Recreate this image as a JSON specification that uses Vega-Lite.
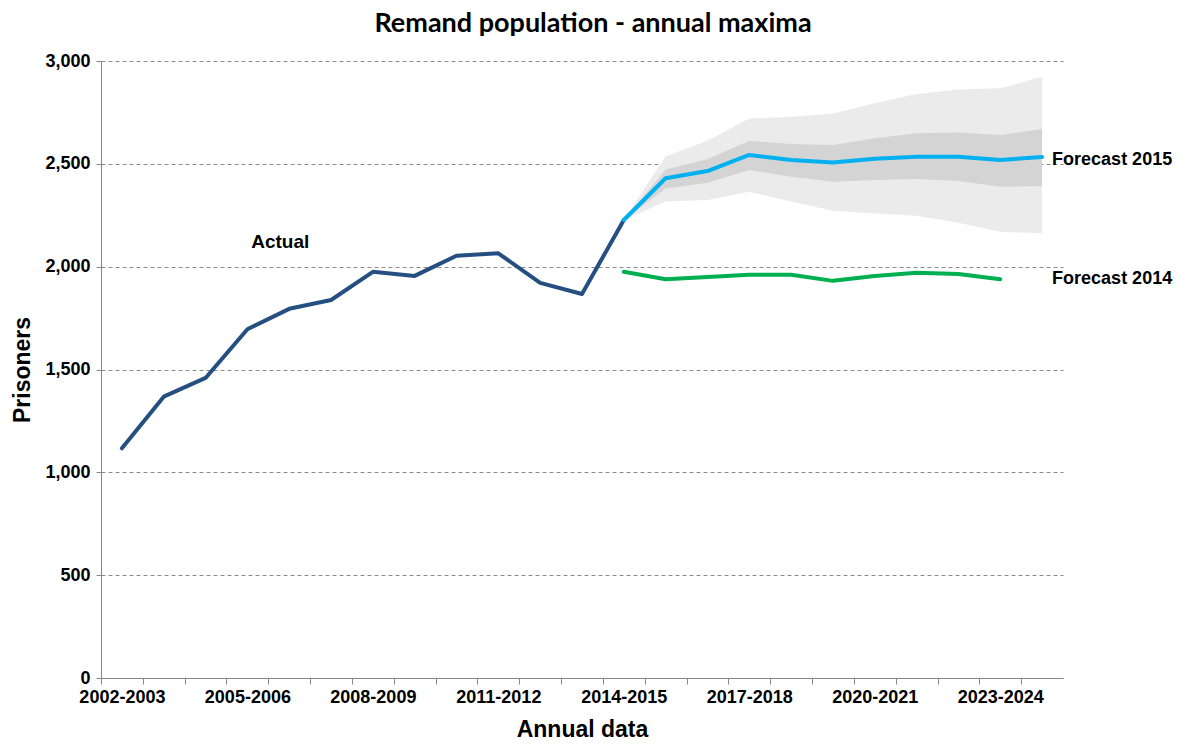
{
  "$schema": "https://vega.github.io/schema/vega-lite/v6.json",
  "autosize": "none",
  "width": 962,
  "height": 617,
  "padding": {"left": 101, "top": 61, "right": 116, "bottom": 66},
  "background": "white",
  "config": {"view": {"stroke": null}},
  "title": {"text": "Remand population - annual maxima", "font": "Lato", "fontSize": 27, "fontWeight": "bold", "color": "#000000", "anchor": "middle", "offset": 14, "dx": 11},
  "datasets": {
    "lines": [
      {"year": "2002-2003", "series": "Actual", "value": 1117},
      {"year": "2003-2004", "series": "Actual", "value": 1368},
      {"year": "2004-2005", "series": "Actual", "value": 1459},
      {"year": "2005-2006", "series": "Actual", "value": 1696},
      {"year": "2006-2007", "series": "Actual", "value": 1795},
      {"year": "2007-2008", "series": "Actual", "value": 1838},
      {"year": "2008-2009", "series": "Actual", "value": 1975},
      {"year": "2009-2010", "series": "Actual", "value": 1955},
      {"year": "2010-2011", "series": "Actual", "value": 2053},
      {"year": "2011-2012", "series": "Actual", "value": 2065},
      {"year": "2012-2013", "series": "Actual", "value": 1921},
      {"year": "2013-2014", "series": "Actual", "value": 1867},
      {"year": "2014-2015", "series": "Actual", "value": 2227},
      {"year": "2014-2015", "series": "Forecast 2015", "value": 2227},
      {"year": "2015-2016", "series": "Forecast 2015", "value": 2430},
      {"year": "2016-2017", "series": "Forecast 2015", "value": 2465},
      {"year": "2017-2018", "series": "Forecast 2015", "value": 2543},
      {"year": "2018-2019", "series": "Forecast 2015", "value": 2519},
      {"year": "2019-2020", "series": "Forecast 2015", "value": 2507},
      {"year": "2020-2021", "series": "Forecast 2015", "value": 2525},
      {"year": "2021-2022", "series": "Forecast 2015", "value": 2535},
      {"year": "2022-2023", "series": "Forecast 2015", "value": 2535},
      {"year": "2023-2024", "series": "Forecast 2015", "value": 2519},
      {"year": "2024-2025", "series": "Forecast 2015", "value": 2533},
      {"year": "2014-2015", "series": "Forecast 2014", "value": 1975},
      {"year": "2015-2016", "series": "Forecast 2014", "value": 1939},
      {"year": "2016-2017", "series": "Forecast 2014", "value": 1950},
      {"year": "2017-2018", "series": "Forecast 2014", "value": 1961},
      {"year": "2018-2019", "series": "Forecast 2014", "value": 1961},
      {"year": "2019-2020", "series": "Forecast 2014", "value": 1931},
      {"year": "2020-2021", "series": "Forecast 2014", "value": 1955},
      {"year": "2021-2022", "series": "Forecast 2014", "value": 1970},
      {"year": "2022-2023", "series": "Forecast 2014", "value": 1964},
      {"year": "2023-2024", "series": "Forecast 2014", "value": 1939}
    ],
    "bands": [
      {"year": "2014-2015", "outer_lo": 2227, "outer_hi": 2227, "inner_lo": 2227, "inner_hi": 2227},
      {"year": "2015-2016", "outer_lo": 2317, "outer_hi": 2537, "inner_lo": 2380, "inner_hi": 2473},
      {"year": "2016-2017", "outer_lo": 2324, "outer_hi": 2612, "inner_lo": 2408, "inner_hi": 2522},
      {"year": "2017-2018", "outer_lo": 2364, "outer_hi": 2721, "inner_lo": 2470, "inner_hi": 2612},
      {"year": "2018-2019", "outer_lo": 2317, "outer_hi": 2729, "inner_lo": 2437, "inner_hi": 2596},
      {"year": "2019-2020", "outer_lo": 2272, "outer_hi": 2745, "inner_lo": 2413, "inner_hi": 2591},
      {"year": "2020-2021", "outer_lo": 2259, "outer_hi": 2794, "inner_lo": 2421, "inner_hi": 2624},
      {"year": "2021-2022", "outer_lo": 2248, "outer_hi": 2839, "inner_lo": 2426, "inner_hi": 2649},
      {"year": "2022-2023", "outer_lo": 2214, "outer_hi": 2862, "inner_lo": 2416, "inner_hi": 2652},
      {"year": "2023-2024", "outer_lo": 2170, "outer_hi": 2867, "inner_lo": 2389, "inner_hi": 2640},
      {"year": "2024-2025", "outer_lo": 2162, "outer_hi": 2924, "inner_lo": 2392, "inner_hi": 2669}
    ],
    "labels": [
      {"year": "2006-2007", "value": 2120, "label": "Actual", "align": "center"},
      {"year": "2024-2025", "value": 2519, "label": "Forecast 2015", "align": "left"},
      {"year": "2024-2025", "value": 1940, "label": "Forecast 2014", "align": "left"}
    ]
  },
  "encoding": {
    "x": {"field": "year", "type": "ordinal",
      "scale": {"type": "point", "padding": 0.5, "domain": ["2002-2003","2003-2004","2004-2005","2005-2006","2006-2007","2007-2008","2008-2009","2009-2010","2010-2011","2011-2012","2012-2013","2013-2014","2014-2015","2015-2016","2016-2017","2017-2018","2018-2019","2019-2020","2020-2021","2021-2022","2022-2023","2023-2024","2024-2025"]},
      "axis": {
        "title": "Annual data", "titleFont": "Liberation Sans", "titleFontSize": 23, "titleFontWeight": "bold", "titleColor": "#000000", "titlePadding": 12,
        "labelFont": "Liberation Sans", "labelFontSize": 18, "labelFontWeight": "bold", "labelColor": "#000000", "labelAngle": 0, "labelPadding": 4,
        "labelOverlap": false, "labelExpr": "toNumber(slice(datum.value,0,4)) % 3 == 1 ? datum.value : ''",
        "tickOffset": -20.913, "labelOffset": 20.913,
        "tickSize": 6, "tickColor": "#868686", "domainColor": "#868686", "grid": false
      }
    }
  },
  "layer": [
    {
      "data": {"name": "bands"},
      "mark": {"type": "area", "color": "#ebebeb", "opacity": 1},
      "encoding": {
        "y": {"field": "outer_lo", "type": "quantitative",
          "scale": {"domain": [0, 3000], "nice": false},
          "axis": {
            "title": "Prisoners", "titleFont": "Liberation Sans", "titleFontSize": 23, "titleFontWeight": "bold", "titleColor": "#000000", "titlePadding": 10,
            "labelFont": "Liberation Sans", "labelFontSize": 18, "labelFontWeight": "bold", "labelColor": "#000000", "labelPadding": 6,
            "values": [0, 500, 1000, 1500, 2000, 2500, 3000], "format": ",.0f",
            "tickSize": 5, "tickColor": "#868686", "domainColor": "#868686",
            "grid": true, "gridColor": "#8c8c8c", "gridDash": [4, 3], "gridWidth": 1
          }
        },
        "y2": {"field": "outer_hi"}
      }
    },
    {
      "data": {"name": "bands"},
      "mark": {"type": "area", "color": "#d4d4d4", "opacity": 1},
      "encoding": {
        "y": {"field": "inner_lo", "type": "quantitative"},
        "y2": {"field": "inner_hi"}
      }
    },
    {
      "data": {"name": "lines"},
      "transform": [{"filter": "datum.series == 'Actual'"}],
      "mark": {"type": "line", "color": "#254f80", "strokeWidth": 4, "strokeCap": "round", "strokeJoin": "round"},
      "encoding": {
        "y": {"field": "value", "type": "quantitative"}
      }
    },
    {
      "data": {"name": "lines"},
      "transform": [{"filter": "datum.series == 'Forecast 2015'"}],
      "mark": {"type": "line", "color": "#00b0f0", "strokeWidth": 4, "strokeCap": "round", "strokeJoin": "round"},
      "encoding": {
        "y": {"field": "value", "type": "quantitative"}
      }
    },
    {
      "data": {"name": "lines"},
      "transform": [{"filter": "datum.series == 'Forecast 2014'"}],
      "mark": {"type": "line", "color": "#00b050", "strokeWidth": 4, "strokeCap": "round", "strokeJoin": "round"},
      "encoding": {
        "y": {"field": "value", "type": "quantitative"}
      }
    },
    {
      "data": {"name": "labels"},
      "transform": [{"filter": "datum.align == 'center'"}],
      "mark": {"type": "text", "font": "Liberation Sans", "fontSize": 19, "fontWeight": "bold", "color": "#000000", "align": "center", "baseline": "middle", "dx": -9},
      "encoding": {
        "y": {"field": "value", "type": "quantitative"},
        "text": {"field": "label"}
      }
    },
    {
      "data": {"name": "labels"},
      "transform": [{"filter": "datum.align == 'left'"}],
      "mark": {"type": "text", "font": "Liberation Sans", "fontSize": 18, "fontWeight": "bold", "color": "#000000", "align": "left", "baseline": "middle", "dx": 10},
      "encoding": {
        "y": {"field": "value", "type": "quantitative"},
        "text": {"field": "label"}
      }
    }
  ]
}
